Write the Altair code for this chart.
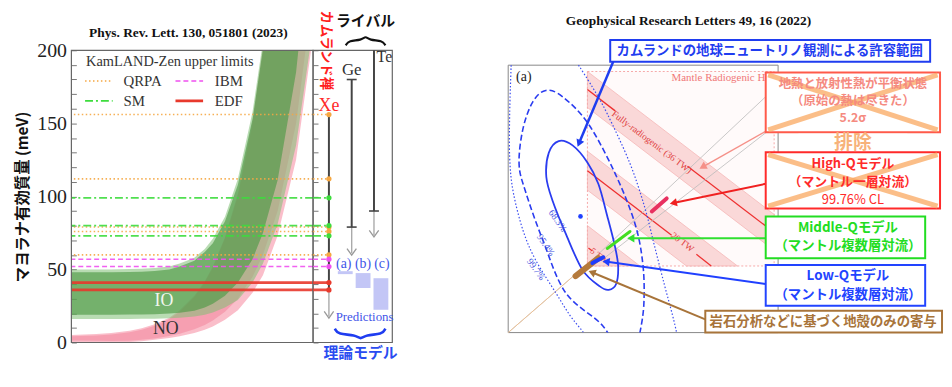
import math
import altair as alt
import pandas as pd

SERIF = "Liberation Serif"
JP = "Noto Sans CJK JP"

# ================= LEFT PANEL DATA (Phys. Rev. Lett. 130, 051801) =================
m_lightest = [1, 2, 3, 5, 7, 10, 15, 20, 30, 40, 50, 70, 100, 150, 200, 300, 500, 800]
io_upper_outer = [50, 50, 50, 50.3, 50.5, 51, 52, 54, 58, 64, 71, 86, 112, 158, 206, 304, 502, 802]
io_lower_outer = [16, 16, 16, 16.1, 16.2, 16.3, 16.6, 17, 17.8, 19, 20.5, 24, 29, 41, 54, 81, 135, 216]
io_upper_inner = [48, 48, 48, 48.3, 48.5, 49, 50, 52, 56, 62, 68, 83, 108, 153, 201, 298, 494, 790]
io_lower_inner = [19, 19, 19, 19.1, 19.2, 19.4, 19.8, 20.3, 21.7, 24, 26.5, 32, 41, 57, 75, 111, 185, 296]
no_upper_outer = [5.2, 5.8, 6.5, 8, 9.8, 12.5, 17, 22, 32, 42, 52, 72, 102, 152, 202, 302, 502, 802]
no_lower_outer = [0, 0, 0, 0.3, 0.8, 1.8, 3, 4.3, 6.5, 8.8, 11, 15.5, 22, 34, 46, 73, 125, 210]
no_upper_inner = [4.2, 4.8, 5.5, 7, 8.8, 11.5, 16, 21, 31, 41, 51, 71, 100, 149, 198, 297, 495, 792]
no_lower_inner = [1.4, 1.2, 1.0, 1.2, 1.8, 2.8, 4.5, 6, 9, 12, 15, 21, 30, 45, 60, 90, 150, 240]

limit_model = ["QRPA", "QRPA", "QRPA", "QRPA", "QRPA", "SM", "SM", "SM", "IBM", "IBM", "EDF", "EDF"]
limit_value = [156, 112, 79, 76, 60, 99, 80, 73, 57, 52, 41, 36]
model_order = ["QRPA", "IBM", "SM", "EDF"]

rival_isotope = ["Xe", "Ge", "Te"]
rival_limit_top = [156, 180, 200]
rival_limit_low = [36, 79, 90]
rival_arrow_end = [17, 60, 72.5]

pred_label = ["(a)", "(b)", "(c)"]
pred_low = [46.8, 37.3, 22.4]
pred_high = [48.8, 47.5, 44.0]

# ================= RIGHT PANEL DATA (Geophys. Res. Lett. 49, 2022) =================
c68_u = [1.02, 1.30, 1.60, 1.82, 2.00, 2.15, 2.22, 2.18, 2.03, 1.85, 1.50, 1.16, 0.90, 0.77, 0.82]
c68_th = [3.94, 3.85, 3.50, 3.06, 2.40, 1.80, 1.37, 1.00, 0.88, 0.95, 1.29, 2.04, 2.70, 3.20, 3.70]
c95_u = [2.20, 1.90, 1.16, 0.70, 0.35, 0.22, 0.30, 0.50, 0.76, 1.10, 1.62, 2.16, 2.56, 2.72, 2.74, 2.66, 2.55]
c95_th = [-0.4, 0.15, 0.82, 1.90, 2.90, 3.47, 4.20, 4.75, 4.98, 4.85, 4.29, 3.27, 2.24, 1.40, 0.60, 0.00, -0.4]
c997a_u = [0.06, 0.03, 0.03, 0.10, 0.30, 0.55, 0.96, 1.25, 1.52, 1.70]
c997a_th = [5.5, 4.5, 3.6, 2.9, 2.1, 1.5, 0.82, 0.35, 0.0, -0.3]
c997b_u = [1.42, 1.70, 2.00, 2.45, 2.75, 2.95, 3.15, 3.32, 3.40, 3.45]
c997b_th = [5.5, 5.05, 4.5, 3.5, 2.6, 1.8, 1.0, 0.35, 0.0, -0.3]
best_u = [1.46]
best_th = [2.39]

heat_band = ["36 TW", "20 TW", "5 TW"]
band36_u, band36_lo, band36_hi = [1.6, 5.37], [4.63, 1.69], [5.37, 2.43]
band20_u, band20_lo, band20_hi = [1.6, 3.6, 4.63], [2.93, 1.37, 1.37], [3.73, 2.17, 1.37]
band5_u, band5_lo, band5_hi = [1.6, 2.66], [1.37, 1.37], [2.2, 1.37]

model_name = ["crust", "low", "middle", "high"]
model_u0 = [1.36, 1.70, 2.00, 2.90]
model_th0 = [1.16, 1.43, 1.73, 2.49]
model_u1 = [1.82, 1.92, 2.46, 3.20]
model_th1 = [1.53, 1.55, 2.08, 2.76]

# ================= STYLES =================
model_colors = ["#f5a742", "#f050f0", "#3ddc3d", "#e8392c"]
model_dashes = [[1.5, 2.5], [5, 3], [8, 3, 2, 3], [1, 0]]
model_widths = [1.6, 1.6, 1.6, 2.6]

W_MAIN, H_MAIN = 244, 295
W_STRIP = 197
W_R, H_R = 273, 285
R_XMAX, R_YMAX = 5.46, 5.806
M_MAX = 800

xs_main = alt.Scale(type="log", domain=[1, M_MAX], nice=False)
ys_main = alt.Scale(domain=[0, 200], nice=False)
xs_strip = alt.Scale(domain=[0, W_STRIP], nice=False)
xs_r = alt.Scale(domain=[0, R_XMAX], nice=False)
ys_r = alt.Scale(domain=[0, R_YMAX], nice=False)


def MX(f):
    return alt.X(f"{f}:Q", scale=xs_main, axis=None)


def MY(f):
    return alt.Y(f"{f}:Q", scale=ys_main, axis=None)


def SX(f):
    return alt.X(f"{f}:Q", scale=xs_strip, axis=None)


def RX(f):
    return alt.X(f"{f}:Q", scale=xs_r, axis=None)


def RY(f):
    return alt.Y(f"{f}:Q", scale=ys_r, axis=None)


def label(xf, yf, x, y, text, **mk):
    df = pd.DataFrame({"x": [x], "y": [y], "t": [text]})
    return alt.Chart(df).mark_text(**mk).encode(x=xf("x"), y=yf("y"), text="t:N")


def segs(xf, yf, x0, y0, x1, y1, **mk):
    df = pd.DataFrame({"x": x0, "y": y0, "x2": x1, "y2": y1})
    return alt.Chart(df).mark_rule(**mk).encode(x=xf("x"), y=yf("y"), x2="x2:Q", y2="y2:Q")


def rects(xf, yf, x0, y0, x1, y1, **mk):
    df = pd.DataFrame({"x": x0, "y": y0, "x2": x1, "y2": y1})
    return alt.Chart(df).mark_rect(**mk).encode(x=xf("x"), y=yf("y"), x2="x2:Q", y2="y2:Q")


def curve(xf, yf, xs, ys, **mk):
    df = pd.DataFrame({"x": xs, "y": ys, "i": list(range(len(xs)))})
    return alt.Chart(df).mark_line(**mk).encode(x=xf("x"), y=yf("y"), order="i:Q")


# ================= LEFT: main plot =================
x_ticks = [v * d for d in (1, 10, 100) for v in range(1, 10) if v * d <= M_MAX]
axis_main_x = alt.Axis(
    values=x_ticks,
    labelExpr="datum.value == 1 ? '10⁰' : datum.value == 10 ? '10¹' : datum.value == 100 ? '10²' : ''",
    domain=False, offset=-5, tickSize=5, tickColor="#777", labelPadding=3,
    labelFont=SERIF, labelFontSize=20, labelColor="#222", labelFlush=False, labelOverlap=False,
    title="最も軽いニュートリノ質量 (meV)", titleFont=JP, titleFontSize=15.5, titleFontWeight="bold",
    titleColor="#111", titlePadding=3, titleX=130, grid=False)
axis_main_y = alt.Axis(
    values=list(range(0, 201, 10)),
    labelExpr="datum.value % 50 == 0 ? datum.label : ''",
    domain=False, offset=-5, tickSize=5, tickColor="#777", labelPadding=5,
    labelFont=SERIF, labelFontSize=20, labelColor="#222", labelFlush=False, labelOverlap=False,
    title="マヨラナ有効質量 (meV)", titleFont=JP, titleFontSize=15.5, titleFontWeight="bold",
    titleColor="#111", titlePadding=6, grid=False)

band_df = pd.DataFrame({
    "m": m_lightest,
    "io_up_o": io_upper_outer, "io_lo_o": io_lower_outer,
    "io_up_i": io_upper_inner, "io_lo_i": io_lower_inner,
    "no_up_o": no_upper_outer, "no_lo_o": no_lower_outer,
    "no_up_i": no_upper_inner, "no_lo_i": no_lower_inner,
})


def band_area(lo, hi, color, op, first=False):
    return alt.Chart(band_df).mark_area(color=color, opacity=op, clip=True).encode(
        x=alt.X("m:Q", scale=xs_main, axis=axis_main_x if first else None),
        y=alt.Y(f"{lo}:Q", scale=ys_main, axis=axis_main_y if first else None),
        y2=f"{hi}:Q")


main_layers = [
    band_area("no_lo_o", "no_up_o", "#f9b3c1", 0.85, first=True),
    band_area("no_lo_i", "no_up_i", "#f48aa0", 0.6),
    band_area("io_lo_o", "io_up_o", "#7fbf74", 0.55),
    band_area("io_lo_i", "io_up_i", "#4f9a46", 0.65),
]
for mdl, col, dash, w in zip(model_order, model_colors, model_dashes, model_widths):
    vals = [v for mm, v in zip(limit_model, limit_value) if mm == mdl]
    main_layers.append(alt.Chart(pd.DataFrame({"y": vals})).mark_rule(
        color=col, strokeDash=dash, strokeWidth=w, opacity=0.9).encode(y=MY("y")))

# hand-drawn legend (position in data units of the panel)
main_layers.append(label(MX, MY, 1.50, 192, "KamLAND-Zen upper limits", font=SERIF, fontSize=14.5,
                         color="#333", align="left"))
leg_pos = {"QRPA": (1.46, 3.13, 4.22, 179), "IBM": (17.8, 38.2, 52.8, 179),
           "SM": (1.46, 3.13, 4.22, 165.4), "EDF": (17.8, 38.2, 52.8, 165.4)}
for mdl, col, dash, w in zip(model_order, model_colors, model_dashes, model_widths):
    a, b, lx, ly = leg_pos[mdl]
    main_layers.append(segs(MX, MY, [a], [ly], [b], [ly], color=col, strokeDash=dash, strokeWidth=w))
    main_layers.append(label(MX, MY, lx, ly, mdl, font=SERIF, fontSize=15, color="#333", align="left"))

main_layers += [
    label(MX, MY, 12.9, 28.5, "IO", font=SERIF, fontSize=18, color="#f2f7f0"),
    label(MX, MY, 13.6, 9.5, "NO", font=SERIF, fontSize=18, color="#333"),
    label(MX, MY, 25.4, 211.5, "Phys. Rev. Lett. 130, 051801 (2023)", font=SERIF, fontSize=13.5,
          fontWeight="bold", color="#111"),
    rects(MX, MY, [1], [0], [M_MAX], [200], fillOpacity=0, stroke="#666", strokeWidth=1.2),
    alt.Chart(pd.DataFrame({"y": limit_value})).mark_rule(opacity=0).encode(
        y=alt.Y("y:Q", scale=ys_main,
                axis=alt.Axis(orient="right", values=list(range(0, 201, 10)), labels=False, tickSize=5,
                              tickColor="#777", domain=False, title="", grid=False))),
]
main = alt.layer(*main_layers).resolve_axis(y="independent").properties(width=W_MAIN, height=H_MAIN)

# ================= LEFT: side strip =================
XE, GE, TE = 16, 39, 61.5
layers = [rects(SX, MY, [0], [0], [80], [200], fillOpacity=0, stroke="#666", strokeWidth=1.2)]
for mdl, col, dash, w in zip(model_order, model_colors, model_dashes, model_widths):
    vals = [v for mm, v in zip(limit_model, limit_value) if mm == mdl]
    layers.append(segs(SX, MY, [0] * len(vals), vals, [XE] * len(vals), vals,
                       color=col, strokeDash=dash, strokeWidth=w, opacity=0.9))
rx = [XE, GE, TE]
layers.append(segs(SX, MY, rx, rival_limit_top, rx, rival_limit_low, color="#444", strokeWidth=2))
layers.append(segs(SX, MY, rx, rival_limit_low, rx, [v + 1 for v in rival_arrow_end],
                   color="#aaa", strokeWidth=1.4))
vhead = pd.DataFrame({"x": rx, "y": [v + 2 for v in rival_arrow_end]})
layers.append(alt.Chart(vhead).mark_point(shape="M-1,-0.7L0,0.7L1,-0.7", filled=False, color="#999",
                                          strokeWidth=1.3, size=90, opacity=1).encode(x=SX("x"), y=MY("y")))
layers.append(segs(SX, MY, [GE - 5, GE - 5, TE - 5], [180, 79, 90], [GE + 5, GE + 5, TE + 5], [180, 79, 90],
                   color="#444", strokeWidth=1.6))
dot_df = pd.DataFrame({"x": [XE] * len(limit_value), "y": limit_value,
                       "c": [model_colors[model_order.index(m)] for m in limit_model]})
layers.append(alt.Chart(dot_df).mark_circle(size=28, opacity=1).encode(
    x=SX("x"), y=MY("y"), color=alt.Color("c:N", scale=None)))
layers.append(rects(SX, MY, [25, 43, 61], pred_low, [40, 58, 76], pred_high, color="#c3c6f6"))
for xx, t in zip([31, 50.5, 69.5], pred_label):
    layers.append(label(SX, MY, xx, 54, t, font=SERIF, fontSize=14, color="#3f55e8"))
layers.append(label(SX, MY, 52, 17.6, "Predictions", font=SERIF, fontSize=13, color="#3f55e8"))
layers.append(label(SX, MY, XE, 162, "Xe", font=SERIF, fontSize=18, color="#ff2a2a"))
layers.append(label(SX, MY, GE, 186.5, "Ge", font=SERIF, fontSize=17, color="#333"))
layers.append(label(SX, MY, 72, 195.5, "Te", font=SERIF, fontSize=16, color="#333"))
layers.append(label(SX, MY, 13, 200, "カムランド禅", font=JP, fontSize=13.5, fontWeight="bold",
                    color="#ff2020", angle=90))
layers.append(label(SX, MY, 53, 220, "ライバル", font=JP, fontSize=15, fontWeight="bold", color="#111"))
layers.append(label(SX, MY, 48, -7, "理論モデル", font=JP, fontSize=15, fontWeight="bold", color="#2a4cf0"))
layers.append(curve(SX, MY, [33, 36, 49, 53, 57, 70, 73], [203.4, 206.8, 206.8, 210, 206.8, 206.8, 203.4],
                    color="#111", strokeWidth=2.2, interpolate="basis"))
layers.append(curve(SX, MY, [22, 25, 43, 48, 53, 70, 73], [9.5, 5.4, 5.4, 1.8, 5.4, 5.4, 9.5],
                    color="#1f3df0", strokeWidth=2.6, interpolate="basis"))
strip = alt.layer(*layers).properties(width=W_STRIP, height=H_MAIN)

# ================= RIGHT PANEL =================
r_axis_x = alt.Axis(values=[0, 1, 2, 3, 4, 5], domain=False, offset=-3, tickSize=3, tickColor="#888",
                    labelFont=SERIF, labelFontSize=9, labelColor="#555", labelPadding=3,
                    title=["²³⁸Uからの反電子ニュートリノフラックス", "(×10⁶cm⁻²s⁻¹)"],
                    titleFont=JP, titleFontSize=14.5, titleFontWeight="normal", titleColor="#222",
                    titlePadding=4, titleLineHeight=24, grid=False)
r_axis_y = alt.Axis(values=[0, 1, 2, 3, 4, 5], domain=False, offset=-3, tickSize=3, tickColor="#888",
                    labelFont=SERIF, labelFontSize=9, labelColor="#555", labelPadding=3,
                    title=["²³²Thからの反電子ニュートリノフラックス", "(×10⁶cm⁻²s⁻¹)"],
                    titleFont=JP, titleFontSize=14, titleFontWeight="normal", titleColor="#222",
                    titlePadding=8, titleLineHeight=22, titleY=196, grid=False)

frame_df = pd.DataFrame({"x": [0], "y": [0], "x2": [5.45], "y2": [5.5]})
r_frame = alt.Chart(frame_df).mark_rect(fillOpacity=0, stroke="#888", strokeWidth=1).encode(
    x=alt.X("x:Q", scale=xs_r, axis=r_axis_x), y=alt.Y("y:Q", scale=ys_r, axis=r_axis_y),
    x2="x2:Q", y2="y2:Q")

R = [r_frame]
R.append(rects(RX, RY, [1.6], [1.37], [5.37], [5.37], color="#fffafa", stroke="#f6a8a8",
               strokeDash=[2, 2], strokeWidth=1))
for bu, blo, bhi in [(band36_u, band36_lo, band36_hi), (band20_u, band20_lo, band20_hi),
                     (band5_u, band5_lo, band5_hi)]:
    bdf = pd.DataFrame({"x": bu, "y": blo, "y2": bhi})
    R.append(alt.Chart(bdf).mark_area(color="#fad0d0", opacity=0.8, stroke="#f4a8a8",
                                      strokeWidth=0.8).encode(x=RX("x"), y=RY("y"), y2="y2:Q"))
R.append(segs(RX, RY, [1.6, 3.62, 1.6, 3.8, 1.62], [5.0, 3.42, 3.33, 1.61, 1.74],
              [2.16, 5.37, 3.3, 4.1, 1.70], [4.56, 2.06, 2.0, 1.37, 1.68], color="#ee3030", strokeWidth=1.3))
R.append(segs(RX, RY, [0, 1.9, 1.7], [0, 1.5, 1.5], [1.62, 5.25, 5.25], [1.43, 4.15, 4.9],
              color="#bbbbbb", strokeWidth=0.8))
R.append(segs(RX, RY, [0], [0], [1.62], [1.43], color="#f0c090", strokeWidth=0.9))
R.append(label(RX, RY, 3.3, 5.24, "Mantle Radiogenic Heat", font=SERIF, fontSize=11, color="#f07878",
               align="left"))
R.append(label(RX, RY, 2.9, 3.92, "Fully-radiogenic (36 TW)", font=SERIF, fontSize=9.5, color="#e04040",
               angle=37))
R.append(label(RX, RY, 3.52, 1.86, "20 TW", font=SERIF, fontSize=9.5, color="#e04040", angle=37))
R.append(label(RX, RY, 1.84, 1.58, "5 TW", font=SERIF, fontSize=9, color="#e04040", angle=37))
R.append(curve(RX, RY, c68_u, c68_th, color="#2a3cf0", strokeWidth=1.8, interpolate="cardinal-closed",
               clip=True))
R.append(curve(RX, RY, c95_u, c95_th, color="#2a3cf0", strokeWidth=1.6, strokeDash=[6, 3],
               interpolate="cardinal", clip=True))
R.append(curve(RX, RY, c997a_u, c997a_th, color="#3a4cf0", strokeWidth=1.2, strokeDash=[1.5, 2],
               interpolate="cardinal", clip=True))
R.append(curve(RX, RY, c997b_u, c997b_th, color="#3a4cf0", strokeWidth=1.2, strokeDash=[1.5, 2],
               interpolate="cardinal", clip=True))
R.append(alt.Chart(pd.DataFrame({"x": best_u, "y": best_th})).mark_circle(size=22, color="#2040ff",
                                                                          opacity=1).encode(x=RX("x"), y=RY("y")))
for xx, yy, t in [(1.0, 2.3, "68.3%"), (0.76, 1.8, "95.4%"), (0.56, 1.3, "99.7%")]:
    R.append(label(RX, RY, xx, yy, t, font=SERIF, fontSize=9.5, color="#4050e0", angle=55))
R.append(label(RX, RY, 0.16, 5.25, "(a)", font=SERIF, fontSize=14, color="#222", align="left"))
seg_colors = ["#b57a3c", "#1f3cff", "#44dd22", "#e83060"]
seg_widths = [6, 4, 3, 4]
for i in range(4):
    R.append(segs(RX, RY, [model_u0[i]], [model_th0[i]], [model_u1[i]], [model_th1[i]],
                  color=seg_colors[i], strokeWidth=seg_widths[i], strokeCap="round"))

# arrows (start x, start y, tip x, tip y, colour, width)
arrows = [
    (2.12, 5.57, 1.40, 3.82, "#1f3df0", 2.5),
    (5.2, 4.14, 3.86, 3.37, "#f59088", 1.5),
    (5.2, 3.06, 3.26, 2.65, "#f02020", 2.0),
    (5.2, 1.94, 2.40, 1.94, "#30e030", 2.0),
    (5.2, 1.00, 1.90, 1.47, "#2040ff", 2.0),
    (3.98, 0.27, 1.62, 1.27, "#a8743a", 2.0),
]
PXX, PXY = W_R / R_XMAX, H_R / R_YMAX
head_rows = []
for x0, y0, x1, y1, col, w in arrows:
    dxp, dyp = (x1 - x0) * PXX, (y1 - y0) * PXY
    L = math.hypot(dxp, dyp)
    back = 5.0
    bx, by = x1 - dxp / L * back / PXX, y1 - dyp / L * back / PXY
    R.append(segs(RX, RY, [x0], [y0], [bx], [by], color=col, strokeWidth=w))
    ang = math.degrees(math.atan2(dxp, dyp)) % 360
    head_rows.append({"x": bx, "y": by, "a": ang, "c": col})
R.append(alt.Chart(pd.DataFrame(head_rows)).mark_point(shape="triangle", filled=True, size=70,
                                                       opacity=1).encode(
    x=RX("x"), y=RY("y"), angle=alt.Angle("a:Q", scale=None), color=alt.Color("c:N", scale=None)))

# annotation boxes
box_x0 = [2.06, 5.2, 5.2, 5.2, 5.2, 3.98]
box_y0 = [5.57, 4.12, 2.55, 1.53, 0.55, 0.0]
box_x1 = [8.52, 8.72, 8.72, 8.42, 8.42, 8.76]
box_y1 = [6.02, 5.35, 3.71, 2.39, 1.39, 0.45]
box_col = ["#1f3df0", "#ff5a4a", "#ff2a2a", "#22dd22", "#2244ff", "#a8743a"]
for i in range(6):
    R.append(rects(RX, RY, [box_x0[i]], [box_y0[i]], [box_x1[i]], [box_y1[i]], color="white",
                   stroke=box_col[i], strokeWidth=2))
R.append(segs(RX, RY, [5.25, 5.25, 5.25, 5.25], [5.3, 4.17, 3.66, 2.6], [8.67, 8.67, 8.67, 8.67],
              [4.17, 5.3, 2.6, 3.66], color="#f9a860", strokeWidth=5, opacity=0.75))
R.append(rects(RX, RY, [5.86], [3.75], [8.06], [4.09], color="white"))
R.append(label(RX, RY, 6.96, 3.90, "排除", font=JP, fontSize=19, fontWeight="bold", color="#f7b27a"))
R.append(label(RX, RY, 5.28, 5.79, "カムランドの地球ニュートリノ観測による許容範囲", font=JP, fontSize=13.5,
               fontWeight="bold", color="#1f3df0"))
for yy, t in [(5.12, "地熱と放射性熱が平衡状態"), (4.76, "（原始の熱は尽きた）"), (4.41, "5.2σ")]:
    R.append(label(RX, RY, 6.96, yy, t, font=JP, fontSize=12.5, fontWeight="bold", color="#f58a80"))
R.append(label(RX, RY, 6.96, 3.47, "High-Qモデル", font=JP, fontSize=13, fontWeight="bold", color="#ff2a2a"))
R.append(label(RX, RY, 6.96, 3.10, "（マントル一層対流）", font=JP, fontSize=13, fontWeight="bold",
               color="#ff2a2a"))
R.append(label(RX, RY, 6.96, 2.73, "99.76% CL", font=JP, fontSize=13, color="#ff2a2a"))
R.append(label(RX, RY, 6.86, 2.15, "Middle-Qモデル", font=JP, fontSize=13.5, fontWeight="bold", color="#22dd22"))
R.append(label(RX, RY, 6.86, 1.77, "（マントル複数層対流）", font=JP, fontSize=13.5, fontWeight="bold",
               color="#22dd22"))
R.append(label(RX, RY, 6.86, 1.17, "Low-Qモデル", font=JP, fontSize=13.5, fontWeight="bold", color="#2244ff"))
R.append(label(RX, RY, 6.86, 0.78, "（マントル複数層対流）", font=JP, fontSize=13.5, fontWeight="bold",
               color="#2244ff"))
R.append(label(RX, RY, 6.36, 0.22, "岩石分析などに基づく地殻のみの寄与", font=JP, fontSize=13.5,
               fontWeight="bold", color="#a8743a"))
R.append(label(RX, RY, 3.64, 6.40, "Geophysical Research Letters 49, 16 (2022)", font=SERIF, fontSize=13.5,
               fontWeight="bold", color="#111"))

right = alt.layer(*R).properties(width=W_R, height=H_R)

chart = alt.hconcat(main, strip, right, spacing=0, bounds="flush").properties(
    padding={"left": 7, "top": 0, "right": 0, "bottom": 0}
).configure_view(stroke="transparent")

chart.save("out.html", embed_options={"renderer": "svg", "actions": False})
